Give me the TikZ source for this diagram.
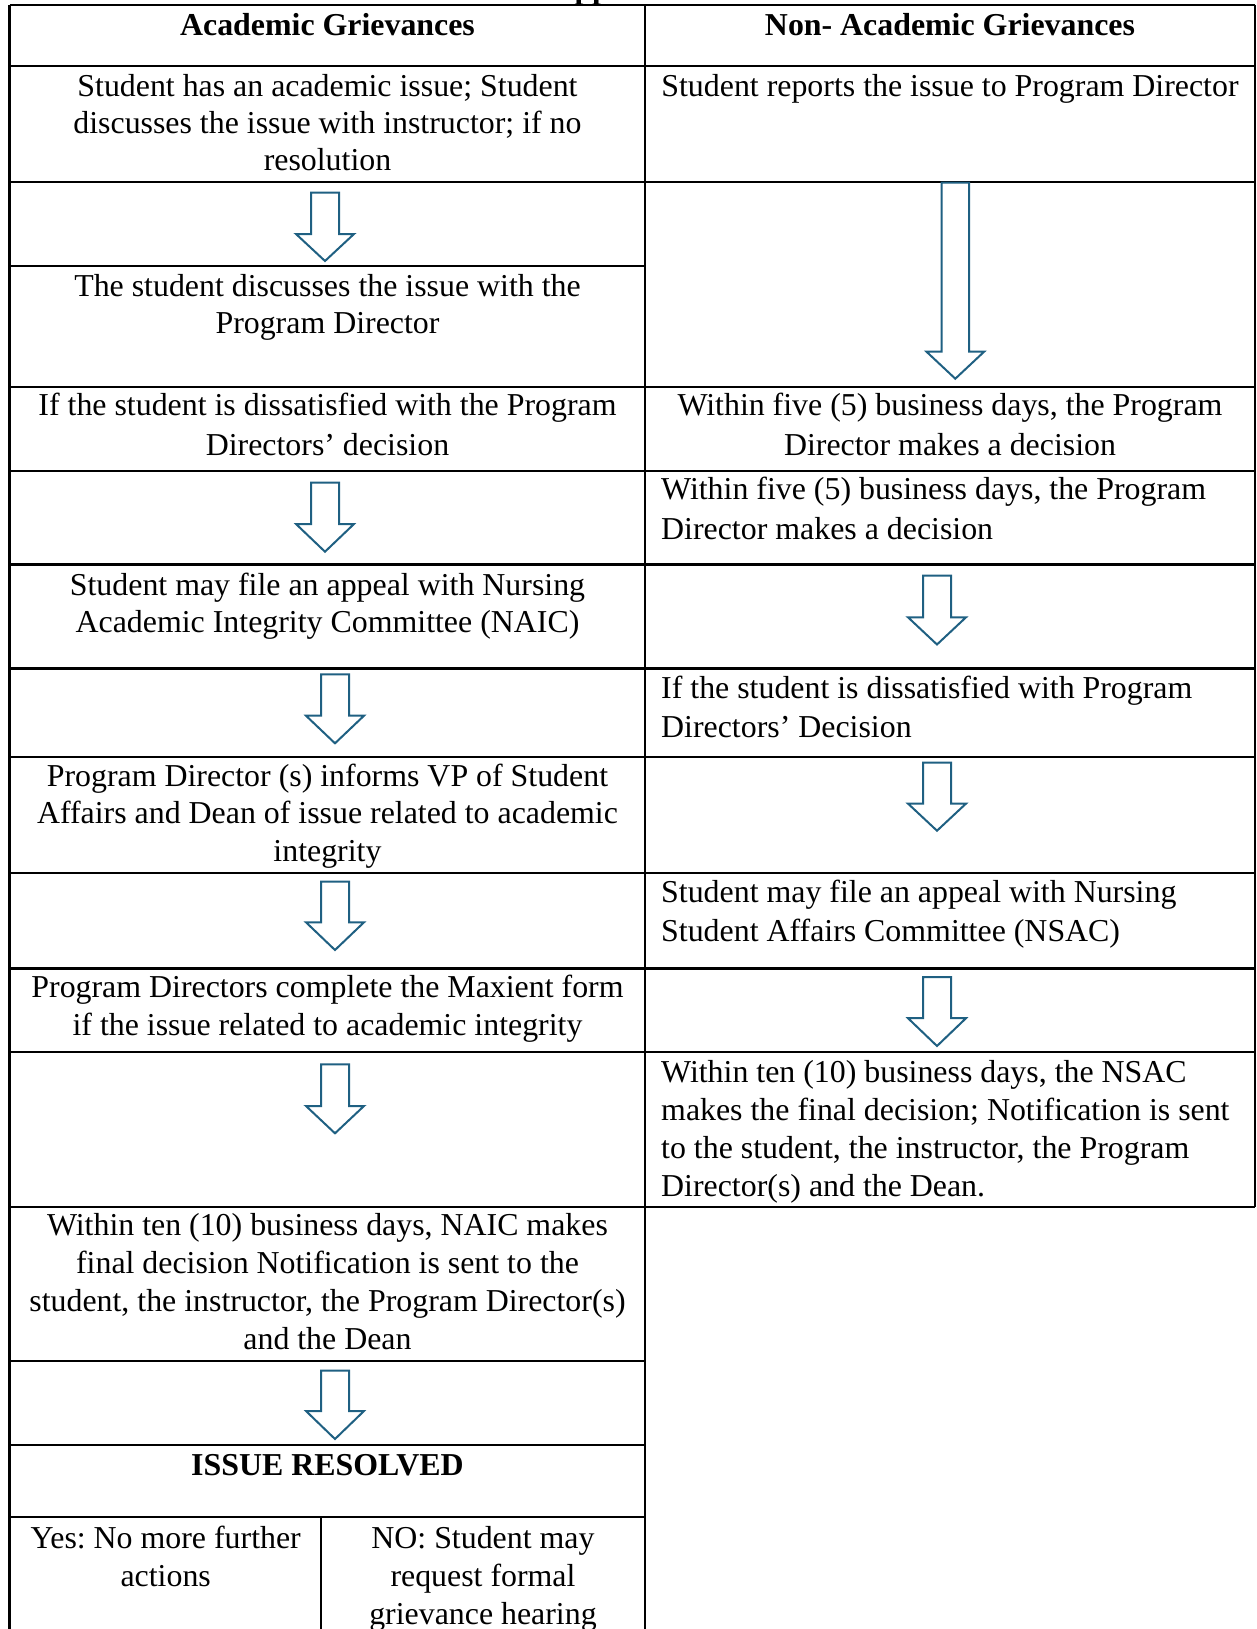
\documentclass[tikz,border=0pt]{standalone}
\usepackage{fontspec}
\setmainfont{Liberation Serif}
\frenchspacing
\definecolor{arrowblue}{RGB}{31,96,130}
\newcommand\blockarrow[6]{% cx, top, base, tip, shaft half width, head half width
  \draw[barrow] ({#1-#5},#2) -- ({#1+#5},#2) -- ({#1+#5},#3) -- ({#1+#6},#3)
    -- (#1,#4) -- ({#1-#6},#3) -- ({#1-#5},#3) -- cycle;}
\begin{document}
\begin{tikzpicture}[x=0.4pt,y=-0.4pt,
  rule/.style={line width=0.9pt,black},
  barrow/.style={draw=arrowblue,line width=0.8pt,fill=white,line join=miter},
  cellc/.style={anchor=base,inner sep=0pt,text width=256pt,align=flush center,
    font=\fontsize{12.75}{#1}\selectfont},
  cellc/.default=15pt,
  celll/.style={anchor=base west,inner sep=0pt,text width=240pt,align=flush left,
    font=\fontsize{12.75}{#1}\selectfont},
  celll/.default=15pt,
  cellsmall/.style={anchor=base,inner sep=0pt,text width=120pt,align=flush center,
    font=\fontsize{12.75}{#1}\selectfont},
  cellsmall/.default=15.2pt,
]
\useasboundingbox (0,0) rectangle (1257,1629);

% cut-off title (only descenders visible)
\node[anchor=base west,inner sep=0pt,font=\bfseries\fontsize{12.75}{15}\selectfont] (title) at (574,-2) {pp};

% ---------- table rules ----------
\foreach \yy in {4.7,65.7,182,386.7,470.7,564.5,668.5,756.7,873.2,968.5,1051.7,1207}
  \draw[rule] (9.5,\yy) -- (1255,\yy);
\foreach \yy in {265.7,1361,1445,1516.7}
  \draw[rule] (9.5,\yy) -- (645,\yy);
\draw[rule] (9.5,4.7) -- (9.5,1632);
\draw[rule] (645,4.7) -- (645,1632);
\draw[rule] (1255,4.7) -- (1255,1207);
\draw[rule] (321,1516.7) -- (321,1632);

% ---------- left column ----------
\node[cellc] (hA) at (327.5,35) {\bfseries Academic Grievances};
\node[cellc=14.8pt] (a1) at (327.5,96.7) {Student has an academic issue; Student\\discusses the issue with instructor; if no\\resolution};
\node[cellc] (a2) at (327.5,296) {The student discusses the issue with the\\Program Director};
\node[cellc=16pt] (a3) at (327.5,415) {If the student is dissatisfied with the Program\\Directors’ decision};
\node[cellc] (a4) at (327.5,595) {Student may file an appeal with Nursing\\Academic Integrity Committee (NAIC)};
\node[cellc=15.1pt] (a5) at (327.5,786) {Program Director (s) informs VP of Student\\Affairs and Dean of issue related to academic\\integrity};
\node[cellc=15.1pt] (a6) at (327.5,997.3) {Program Directors complete the Maxient form\\if the issue related to academic integrity};
\node[cellc=15.3pt] (a7) at (327.5,1235) {Within ten (10) business days, NAIC makes\\final decision Notification is sent to the\\student, the instructor, the Program Director(s)\\and the Dean};
\node[cellc] (a8) at (327.5,1475) {\bfseries ISSUE RESOLVED};
\node[cellsmall] (yes) at (165.7,1548) {Yes: No more further\\actions};
\node[cellsmall] (no) at (483,1548) {NO: Student may\\request formal\\grievance hearing};

% ---------- right column ----------
\node[cellc] (hN) at (950,35) {\bfseries Non- Academic Grievances};
\node[cellc] (n1) at (950,96.7) {Student reports the issue to Program Director};
\node[cellc=16pt] (n2) at (950,415) {Within five (5) business days, the Program\\Director makes a decision};
\node[celll=16pt] (n3) at (660.7,499) {Within five (5) business days, the Program\\Director makes a decision};
\node[celll=15.5pt] (n4) at (660.7,698.6) {If the student is dissatisfied with Program\\Directors’ Decision};
\node[celll=15.6pt] (n5) at (660.7,902) {Student may file an appeal with Nursing\\Student Affairs Committee (NSAC)};
\node[celll=15.25pt] (n6) at (660.7,1082.5) {Within ten (10) business days, the NSAC\\makes the final decision; Notification is sent\\to the student, the instructor, the Program\\Director(s) and the Dean.};

% ---------- block arrows ----------
\blockarrow{325}{192.7}{234}{261}{14}{29}
\blockarrow{325}{482.7}{524}{551.7}{14}{29}
\blockarrow{335}{674.3}{715.7}{743.3}{14}{29}
\blockarrow{335}{881.7}{922.3}{950}{14}{29}
\blockarrow{335}{1064.3}{1106}{1133.3}{14}{29}
\blockarrow{335}{1370.7}{1411}{1439}{14}{29}
\blockarrow{955.3}{182.7}{351.7}{378.7}{13.7}{28.8}
\blockarrow{937}{575.7}{617.3}{644.5}{14}{29}
\blockarrow{937}{762.5}{803.6}{830.7}{14}{29}
\blockarrow{937}{977}{1018.2}{1046}{14}{29}
\end{tikzpicture}
\end{document}
